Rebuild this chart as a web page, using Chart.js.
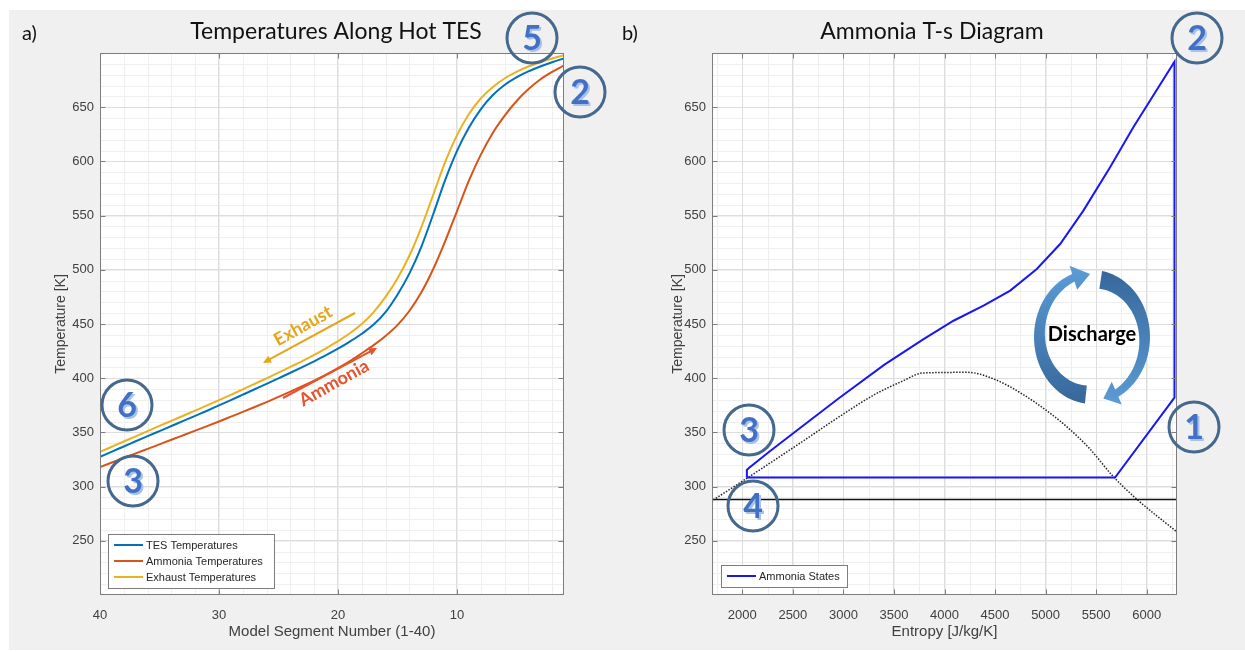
<!DOCTYPE html>
<html>
<head>
<meta charset="utf-8">
<title>Hot TES discharge</title>
<script src="https://cdn.jsdelivr.net/npm/chart.js@4.4.1/dist/chart.umd.min.js"></script>
<style>
  html, body { margin: 0; padding: 0; background: #ffffff; }
  #frame { position: absolute; left: 9px; top: 10px; width: 1236px; height: 640px; background: #f0f0f0; }
  #panel-a { position: absolute; left: 0; top: 0; }
  #panel-b { position: absolute; left: 620px; top: 0; }
</style>
</head>
<body>
<div id="frame"></div>
<canvas id="panel-a" width="620" height="652"></canvas>
<canvas id="panel-b" width="625" height="652"></canvas>
<script>
// segment temperatures along the hot TES (segment 40 -> 1)
const segments = [40, 39, 38, 37, 36, 35, 34, 33, 32, 31, 30, 29, 28, 27, 26, 25, 24, 23, 22, 21,
                  20, 19, 18, 17, 16, 15, 14, 13, 12, 11, 10, 9, 8, 7, 6, 5, 4, 3, 2, 1]
const tesTemps = [327.5, 332.3, 337.0, 341.8, 346.5, 351.2, 355.9, 360.6, 365.3, 370.0,
                  374.9, 379.8, 384.8, 389.8, 394.8, 399.9, 405.0, 410.2, 415.6, 421.2,
                  427.2, 433.8, 441.0, 449.5, 461.0, 477.0, 496.5, 521.0, 551.0, 582.5,
                  609.5, 631.0, 648.0, 661.0, 670.5, 677.5, 683.0, 687.5, 691.5, 695.0]
const ammoniaTemps = [318.0, 322.2, 326.4, 330.6, 334.8, 339.0, 343.2, 347.4, 351.6, 355.8,
                      360.1, 364.5, 368.9, 373.4, 378.0, 382.7, 387.6, 392.6, 397.8, 403.3,
                      409.2, 415.7, 423.0, 430.5, 439.0, 449.0, 462.0, 479.0, 500.5, 526.0,
                      554.0, 582.0, 606.0, 626.0, 642.0, 655.5, 666.5, 675.5, 682.5, 688.5]
const exhaustTemps = [332.0, 336.8, 341.6, 346.4, 351.2, 356.0, 360.7, 365.4, 370.1, 374.9,
                      379.7, 384.7, 389.7, 394.8, 399.9, 405.1, 410.4, 415.8, 421.5, 427.6,
                      434.2, 441.5, 450.0, 461.0, 475.0, 492.0, 513.0, 539.0, 569.0, 599.0,
                      624.0, 643.5, 658.0, 668.5, 676.5, 682.5, 687.5, 691.5, 695.0, 698.0]

// ammonia cycle states, T-s plane (4 -> 1 -> 2 -> 3 -> 4)
const cycleEntropy = [2045, 5687, 6275, 6275, 5868, 5638, 5374, 5144, 4913, 4650, 4386,
                      4089, 3793, 3406, 2958, 2613, 2269, 2062, 2045, 2045]
const cycleTemp = [308.3, 308.3, 382.0, 692.0, 631.5, 594.6, 554.6, 523.8, 500.8, 480.8, 466.9,
                   453.0, 436.0, 412.5, 381.7, 357.0, 332.4, 317.0, 315.4, 308.3]

// saturation dome
const domeEntropy = [1713, 2055, 2621, 2963, 3306, 3580, 3786, 4231, 4505, 4780, 5020, 5225, 5431, 5670, 5911, 6288]
const domeTemp = [287.7, 308.3, 343.2, 364.7, 384.8, 397.1, 404.8, 405.4, 398.6, 384.8, 369.4, 354.0, 335.5, 309.2, 287.7, 259.0]

// ambient temperature line
const ambientEntropy = [1700, 6300]
const ambientTemp = [288, 288]

// axis ticks
const segTicks = [40, 30, 20, 10]
const entropyTicks = [2000, 2500, 3000, 3500, 4000, 4500, 5000, 5500, 6000]
const tempTicks = [250, 300, 350, 400, 450, 500, 550, 600, 650]

const toPoints = (xs, ys) => xs.map((x, i) => ({ x: x, y: ys[i] }))

const tickFont = { family: 'Liberation Sans', size: 13 }
const xTitleFont = { family: 'Liberation Sans', size: 15 }
const yTitleFont = { family: 'Liberation Sans', size: 14 }
const labelColor = '#404040'
const plainTick = (v) => String(v)

// minor grid underneath, box + inward ticks + legend on top
const axesFrame = {
  id: 'axesFrame',
  beforeDraw(chart, args, opts) {
    const { ctx, chartArea: a, scales: { x, y } } = chart
    ctx.save()
    ctx.fillStyle = '#ffffff'
    ctx.fillRect(a.left, a.top, a.right - a.left, a.bottom - a.top)
    ctx.strokeStyle = '#efefef'
    ctx.lineWidth = 1
    ctx.beginPath()
    for (let v = Math.ceil(x.min / opts.xMinor) * opts.xMinor; v <= x.max; v += opts.xMinor) {
      const px = Math.round(x.getPixelForValue(v)) + 0.5
      ctx.moveTo(px, a.top)
      ctx.lineTo(px, a.bottom)
    }
    for (let v = Math.ceil(y.min / opts.yMinor) * opts.yMinor; v <= y.max; v += opts.yMinor) {
      const py = Math.round(y.getPixelForValue(v)) + 0.5
      ctx.moveTo(a.left, py)
      ctx.lineTo(a.right, py)
    }
    ctx.stroke()
    ctx.restore()
  },
  afterDatasetsDraw(chart, args, opts) {
    const { ctx, chartArea: a, scales: { x, y } } = chart
    ctx.save()
    ctx.strokeStyle = '#7d7d7d'
    ctx.lineWidth = 1
    const l = Math.round(a.left) + 0.5, r = Math.round(a.right) - 0.5
    const t = Math.round(a.top) + 0.5, b = Math.round(a.bottom) - 0.5
    ctx.strokeRect(l, t, r - l, b - t)
    ctx.beginPath()
    x.ticks.forEach((tk) => {
      const px = Math.round(x.getPixelForValue(tk.value)) + 0.5
      ctx.moveTo(px, b); ctx.lineTo(px, b - 5)
      ctx.moveTo(px, t); ctx.lineTo(px, t + 5)
    })
    y.ticks.forEach((tk) => {
      const py = Math.round(y.getPixelForValue(tk.value)) + 0.5
      ctx.moveTo(l, py); ctx.lineTo(l + 5, py)
      ctx.moveTo(r, py); ctx.lineTo(r - 5, py)
    })
    ctx.stroke()

    // legend box
    const lg = opts.legend
    const items = chart.data.datasets.filter((d) => !d.noLegend)
    ctx.fillStyle = '#ffffff'
    ctx.fillRect(lg.x, lg.y, lg.w, lg.rowH * items.length + 6)
    ctx.strokeStyle = '#7d7d7d'
    ctx.strokeRect(lg.x + 0.5, lg.y + 0.5, lg.w, lg.rowH * items.length + 6)
    ctx.font = '11px "Liberation Sans"'
    ctx.textBaseline = 'middle'
    ctx.textAlign = 'left'
    items.forEach((d, i) => {
      const cy = lg.y + 3 + lg.rowH * (i + 0.5)
      ctx.strokeStyle = d.borderColor
      ctx.lineWidth = 2
      ctx.beginPath()
      ctx.moveTo(lg.x + 6, cy)
      ctx.lineTo(lg.x + 35, cy)
      ctx.stroke()
      ctx.fillStyle = '#262626'
      ctx.fillText(d.label, lg.x + 38, cy + 0.5)
    })
    ctx.restore()
  }
}

// circled state number
function stateBadge(ctx, x, y, n) {
  ctx.save()
  ctx.beginPath()
  ctx.arc(x, y, 25, 0, Math.PI * 2)
  ctx.lineWidth = 3
  ctx.strokeStyle = '#45688e'
  ctx.stroke()
  ctx.font = 'bold 34px Lato'
  ctx.textAlign = 'center'
  ctx.textBaseline = 'middle'
  ctx.fillStyle = '#a9c1e8'
  ctx.fillText(n, x + 2, y + 3)
  ctx.fillStyle = '#4170c4'
  ctx.fillText(n, x, y + 1)
  ctx.restore()
}

function straightArrow(ctx, x1, y1, x2, y2, color) {
  const ang = Math.atan2(y2 - y1, x2 - x1)
  const head = 9
  ctx.save()
  ctx.strokeStyle = color
  ctx.fillStyle = color
  ctx.lineWidth = 2
  ctx.beginPath()
  ctx.moveTo(x1, y1)
  ctx.lineTo(x2 - head * 0.7 * Math.cos(ang), y2 - head * 0.7 * Math.sin(ang))
  ctx.stroke()
  ctx.beginPath()
  ctx.moveTo(x2, y2)
  ctx.lineTo(x2 - head * Math.cos(ang - 0.45), y2 - head * Math.sin(ang - 0.45))
  ctx.lineTo(x2 - head * Math.cos(ang + 0.45), y2 - head * Math.sin(ang + 0.45))
  ctx.closePath()
  ctx.fill()
  ctx.restore()
}

function tiltedLabel(ctx, text, x, y, deg, color) {
  ctx.save()
  ctx.translate(x, y)
  ctx.rotate(deg * Math.PI / 180)
  ctx.font = 'bold 18px Lato'
  ctx.textAlign = 'center'
  ctx.textBaseline = 'middle'
  ctx.fillStyle = color
  ctx.fillText(text, 0, 0)
  ctx.restore()
}

// tapered arrow bent along an ellipse, angles in degrees (clockwise on screen)
function bentArrow(ctx, o) {
  const pt = (deg, k) => {
    const r = deg * Math.PI / 180
    return [o.cx + k * o.rx * Math.cos(r), o.cy + k * o.ry * Math.sin(r)]
  }
  const n = 40
  const outer = [], inner = []
  for (let i = 0; i <= n; i++) {
    const f = i / n
    const deg = o.from + (o.head - o.from) * f
    const t = o.t0 + (o.t1 - o.t0) * f
    outer.push(pt(deg, 1))
    inner.push(pt(deg, 1 - t))
  }
  const flare = 0.13
  ctx.save()
  ctx.beginPath()
  outer.forEach(([px, py], i) => (i ? ctx.lineTo(px, py) : ctx.moveTo(px, py)))
  let p = pt(o.head, 1 + flare); ctx.lineTo(p[0], p[1])
  p = pt(o.to, 1 - o.t1 / 2); ctx.lineTo(p[0], p[1])
  p = pt(o.head, 1 - o.t1 - flare); ctx.lineTo(p[0], p[1])
  for (let i = n; i >= 0; i--) ctx.lineTo(inner[i][0], inner[i][1])
  ctx.closePath()
  const g = ctx.createLinearGradient(0, o.cy - o.ry, 0, o.cy + o.ry)
  g.addColorStop(0, o.topColor)
  g.addColorStop(1, o.bottomColor)
  ctx.fillStyle = g
  ctx.fill()
  ctx.restore()
}

function panelTitle(ctx, tag, title, tagX, titleX) {
  ctx.save()
  ctx.fillStyle = '#111111'
  ctx.textBaseline = 'middle'
  ctx.font = '20px Lato'
  ctx.textAlign = 'left'
  ctx.fillText(tag, tagX, 34)
  ctx.font = '23px Lato'
  ctx.textAlign = 'center'
  ctx.fillText(title, titleX, 32)
  ctx.restore()
}

const tesNotes = {
  id: 'tesNotes',
  afterDraw(chart) {
    const ctx = chart.ctx
    panelTitle(ctx, 'a)', 'Temperatures Along Hot TES', 22, 336)
    straightArrow(ctx, 355, 313, 263, 363, '#e6a619')
    tiltedLabel(ctx, 'Exhaust', 303, 326, -29, '#e6a619')
    straightArrow(ctx, 283, 398, 377, 348, '#e6532c')
    tiltedLabel(ctx, 'Ammonia', 334, 383, -29, '#e6532c')
    stateBadge(ctx, 532, 38, '5')
    stateBadge(ctx, 580, 92, '2')
    stateBadge(ctx, 127, 405, '6')
    stateBadge(ctx, 133, 481, '3')
  }
}

const cycleNotes = {
  id: 'cycleNotes',
  afterDraw(chart) {
    const ctx = chart.ctx
    panelTitle(ctx, 'b)', 'Ammonia T-s Diagram', 2, 312)
    bentArrow(ctx, { cx: 472, cy: 337, rx: 58, ry: 67, from: 97, head: 250, to: 268,
                     t0: 0.27, t1: 0.12, topColor: '#5b9bd5', bottomColor: '#36679a' })
    bentArrow(ctx, { cx: 472, cy: 337, rx: 58, ry: 67, from: 280, head: 423, to: 438,
                     t0: 0.27, t1: 0.12, topColor: '#36679a', bottomColor: '#5b9bd5' })
    ctx.save()
    ctx.font = 'bold 20px Lato'
    ctx.fillStyle = '#000000'
    ctx.textAlign = 'center'
    ctx.textBaseline = 'middle'
    ctx.fillText('Discharge', 472, 335)
    ctx.restore()
    stateBadge(ctx, 577, 38, '2')
    stateBadge(ctx, 129, 430, '3')
    stateBadge(ctx, 133, 506, '4')
    stateBadge(ctx, 574, 427, '1')
  }
}

const tempAxis = (titlePad) => ({
  type: 'linear',
  min: 200,
  max: 700,
  afterBuildTicks: (s) => { s.ticks = tempTicks.map((v) => ({ value: v })) },
  grid: { color: '#dddddd', drawTicks: false },
  border: { display: false },
  ticks: { padding: 6, color: labelColor, font: tickFont, callback: plainTick },
  title: { display: true, text: 'Temperature [K]', color: labelColor, font: yTitleFont, padding: { top: titlePad } }
})

new Chart(document.getElementById('panel-a'), {
  type: 'scatter',
  data: {
    datasets: [
      { label: 'TES Temperatures', data: toPoints(segments, tesTemps), borderColor: '#0072bd' },
      { label: 'Ammonia Temperatures', data: toPoints(segments, ammoniaTemps), borderColor: '#d95319' },
      { label: 'Exhaust Temperatures', data: toPoints(segments, exhaustTemps), borderColor: '#edb120' }
    ]
  },
  options: {
    responsive: false,
    animation: false,
    showLine: true,
    elements: {
      point: { radius: 0 },
      line: { borderWidth: 2, cubicInterpolationMode: 'monotone' }
    },
    layout: { padding: { left: 0, right: 56, top: 53, bottom: 0 } },
    scales: {
      x: {
        type: 'linear',
        reverse: true,
        min: 1,
        max: 40,
        afterBuildTicks: (s) => { s.ticks = segTicks.map((v) => ({ value: v })) },
        afterFit: (s) => { s.height = 57 },
        grid: { color: '#dddddd', drawTicks: false },
        border: { display: false },
        ticks: { padding: 13, color: labelColor, font: tickFont, maxRotation: 0, callback: plainTick },
        title: { display: true, text: 'Model Segment Number (1-40)', color: labelColor, font: xTitleFont, padding: { bottom: 11 } }
      },
      y: Object.assign(tempAxis(53), { afterFit: (s) => { s.width = 100 } })
    },
    plugins: {
      legend: { display: false },
      tooltip: { enabled: false },
      axesFrame: { xMinor: 2, yMinor: 10, legend: { x: 108, y: 534, w: 166, rowH: 16 } }
    }
  },
  plugins: [axesFrame, tesNotes]
})

new Chart(document.getElementById('panel-b'), {
  type: 'scatter',
  data: {
    datasets: [
      { label: 'Ammonia States', data: toPoints(cycleEntropy, cycleTemp), borderColor: '#1717f5', borderWidth: 2 },
      { label: 'Saturation', noLegend: true, data: toPoints(domeEntropy, domeTemp), borderColor: '#222222',
        borderWidth: 1.5, borderDash: [1.5, 1.5], cubicInterpolationMode: 'monotone' },
      { label: 'Ambient', noLegend: true, data: toPoints(ambientEntropy, ambientTemp), borderColor: '#111111', borderWidth: 1.5 }
    ]
  },
  options: {
    responsive: false,
    animation: false,
    showLine: true,
    elements: { point: { radius: 0 } },
    layout: { padding: { left: 0, right: 68, top: 53, bottom: 0 } },
    scales: {
      x: {
        type: 'linear',
        min: 1700,
        max: 6300,
        afterBuildTicks: (s) => { s.ticks = entropyTicks.map((v) => ({ value: v })) },
        afterFit: (s) => { s.height = 57 },
        grid: { color: '#dddddd', drawTicks: false },
        border: { display: false },
        ticks: { padding: 13, color: labelColor, font: tickFont, maxRotation: 0, callback: plainTick },
        title: { display: true, text: 'Entropy [J/kg/K]', color: labelColor, font: xTitleFont, padding: { bottom: 11 } }
      },
      y: Object.assign(tempAxis(50), { afterFit: (s) => { s.width = 92 } })
    },
    plugins: {
      legend: { display: false },
      tooltip: { enabled: false },
      axesFrame: { xMinor: 250, yMinor: 10, legend: { x: 101, y: 565, w: 126, rowH: 16 } }
    }
  },
  plugins: [axesFrame, cycleNotes]
})
</script>
</body>
</html>
